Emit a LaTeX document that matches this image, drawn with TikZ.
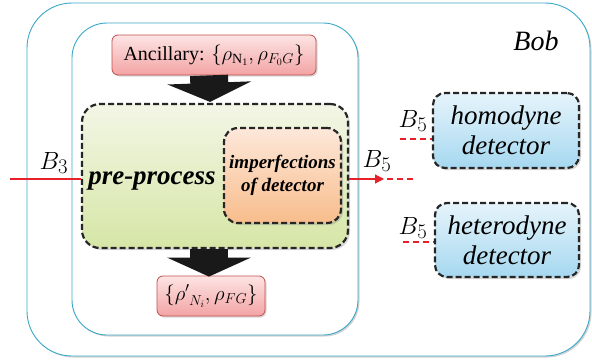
\documentclass[tikz,border=0pt]{standalone}
\usepackage{fontspec}
\setmainfont{Liberation Serif}[ItalicFont={Liberation Serif Italic}, BoldFont={Liberation Serif Bold}, BoldItalicFont={Liberation Serif Bold Italic}]
\usetikzlibrary{shadows,arrows.meta,calc}
\definecolor{frameblue}{HTML}{3AA8C8}
\definecolor{pinkB}{HTML}{C0504D}
\definecolor{pinkT}{HTML}{FDE4E4}
\definecolor{pinkBot}{HTML}{F3A3A3}
\definecolor{greenT}{HTML}{F3F6E6}
\definecolor{greenB}{HTML}{D6E6A6}
\definecolor{orT}{HTML}{FDE8DA}
\definecolor{orB}{HTML}{F8BD8C}
\definecolor{blT}{HTML}{E6F4FB}
\definecolor{blB}{HTML}{A6D8F0}
\definecolor{arrred}{HTML}{E8202A}
\begin{document}
\begin{tikzpicture}[x=1pt,y=-1pt,
  frame/.style={draw=frameblue, line width=0.9pt, fill=white, drop shadow={shadow xshift=1.5pt,shadow yshift=-1.5pt,opacity=0.35}},
  pinkbox/.style={draw=pinkB, line width=0.8pt, rounded corners=6pt, top color=pinkT, bottom color=pinkBot, drop shadow={shadow xshift=1.5pt,shadow yshift=-1.5pt,opacity=0.3}},
  dbox/.style={draw=black!85, line width=2.2pt, dash pattern=on 6pt off 3pt, drop shadow={shadow xshift=2pt,shadow yshift=-2pt,opacity=0.3}},
  fatarrow/.style={line width=38pt, black!90, -{Triangle[length=19pt,width=83pt]}},
  redline/.style={draw=arrred, line width=1.1pt},
  reddash/.style={draw=arrred, line width=1.1pt, dash pattern=on 6pt off 4pt},
  lbl/.style={inner sep=0pt, font=\fontsize{29}{32}\selectfont},
]
\useasboundingbox (0,0) rectangle (592,360);
% frames
\node[frame, rounded corners=45pt, minimum width=563pt, minimum height=353pt, inner sep=0pt] (outer) at (308.5,179.5) {};
\node[frame, rounded corners=35pt, minimum width=286pt, minimum height=312pt, inner sep=0pt] (inner) at (215,179) {};
% pre-process
\node[dbox, rounded corners=18pt, top color=greenT, bottom color=greenB, minimum width=266pt, minimum height=144pt, inner sep=0pt] (pre) at (215,176) {};
\node[font=\fontsize{27}{30}\selectfont\bfseries\itshape, inner sep=0pt] (pretext) at (152,181) {pre-process};
\node[dbox, rounded corners=14pt, top color=orT, bottom color=orB, minimum width=117pt, minimum height=95pt, inner sep=0pt, align=center, font=\fontsize{19}{23}\selectfont\bfseries\itshape] (imp) at (282.5,175.5) {imperfections\\of detector};
% ancillary
\node[pinkbox, minimum width=204pt, minimum height=40pt, inner sep=0pt, font=\fontsize{20}{24}\selectfont] (anc) at (214,55) {Ancillary: $\{\rho_{\mathrm{N_1}},\rho_{F_0G}\}$};
\node[pinkbox, minimum width=108pt, minimum height=40pt, inner sep=0pt, font=\fontsize{20}{24}\selectfont] (out) at (211,296) {$\{\rho'_{\;N_i},\rho_{FG}\}$};
% fat arrows
\draw[fatarrow] ([xshift=-5pt]anc.south) -- ([xshift=-5pt,yshift=1pt]pre.north);
\draw[fatarrow] ([xshift=-6pt]pre.south) -- ([xshift=-2pt,yshift=-1pt]out.north);
% detectors
\node[dbox, rounded corners=12pt, top color=blT, bottom color=blB, minimum width=146pt, minimum height=75pt, inner sep=0pt, align=center, font=\fontsize{27}{30}\selectfont\itshape] (homo) at (506,130.5) {homodyne\\detector};
\node[dbox, rounded corners=12pt, top color=blT, bottom color=blB, minimum width=144pt, minimum height=74pt, inner sep=0pt, align=center, font=\fontsize{27}{30}\selectfont\itshape] (hetero) at (507,240) {heterodyne\\detector};
% labels
\node[lbl] (b3) at (54,163) {$B_3$};
\node[lbl] (b5m) at (377,161) {$B_5$};
\node[lbl] (b5h) at (413,121) {$B_5$};
\node[lbl] (b5t) at (413,228) {$B_5$};
\node[lbl, font=\fontsize{28}{32}\selectfont\itshape] (bob) at (536,41) {Bob};
% red lines
\coordinate (in) at (10,179);
\draw[redline] (in) -- (in -| pre.west);
\coordinate (outtip) at (384,179);
\draw[redline, -{Triangle[length=9pt,width=9pt]}] (outtip -| pre.east) -- (outtip);
\coordinate (d1) at (387,179);
\coordinate (d1e) at (414,179);
\draw[reddash] (d1) -- (d1e);
\coordinate (h1) at (400,139);
\draw[reddash] (h1) -- (h1 -| homo.west);
\coordinate (h2) at (403,242);
\draw[reddash] (h2) -- (h2 -| hetero.west);
\end{tikzpicture}
\end{document}
